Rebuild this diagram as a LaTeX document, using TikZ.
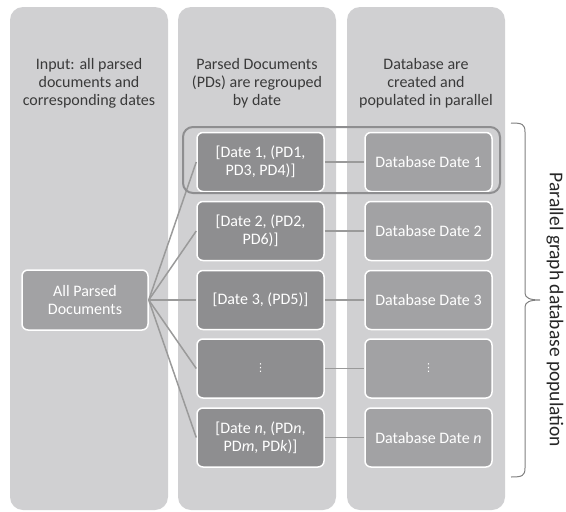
\documentclass[tikz,border=0pt]{standalone}
\usepackage{fontspec}
\setmainfont{Carlito}
\newfontfamily\symfont{DejaVu Sans}
\usepackage{tikz}
\usetikzlibrary{positioning}
\definecolor{colbg}{HTML}{D0D0D2}
\definecolor{boxa}{HTML}{8E8E90}
\definecolor{boxb}{HTML}{A2A2A4}
\definecolor{wirec}{HTML}{9A9A9A}
\definecolor{ink}{HTML}{3A3A3A}
\tikzset{col/.style = {fill = colbg, rounded corners = 13}}
\tikzset{head/.style = {align = center, text = ink, inner sep = 0, font = \fontsize{16}{18}\selectfont}}
\tikzset{pd/.style = {fill = boxa, draw = white, line width = 1.5pt, rounded corners = 6, minimum width = 127, minimum height = 59, inner sep = 0, align = center, text = white, font = \fontsize{16}{18}\selectfont}}
\tikzset{db/.style = {pd, fill = boxb}}
\tikzset{wire/.style = {draw = wirec, line width = 1.5pt}}
\tikzset{hl/.style = {draw = boxa, line width = 2pt, rounded corners = 10}}
\tikzset{brc/.style = {draw = gray, line width = 1pt}}
\newcommand{\vdotsym}{{\symfont\fontsize{11}{12}\selectfont ⋮}}

\begin{document}
\begin{tikzpicture}[x = 1pt, y = -1pt]
    \useasboundingbox (0, 0) rectangle (566, 512);

    \fill [col] (10, 7) rectangle (168, 510);
    \fill [col] (178, 7) rectangle (336, 510);
    \fill [col] (347, 7) rectangle (505, 510);

    \node [head] (h1) at (89, 83) {Input: all parsed\\documents and\\corresponding dates};
    \node [head] (h2) at (257, 83) {Parsed Documents\\(PDs) are regrouped\\by date};
    \node [head] (h3) at (426, 83) {Database are\\created and\\populated in parallel};

    \node [db, minimum width = 126, minimum height = 60] (all) at (85, 300) {All Parsed\\Documents};

    \node [pd] (d1) at (260.5, 162) {[Date 1, (PD1,\\PD3, PD4)]};
    \node [pd] (d2) at (260.5, 231) {[Date 2, (PD2,\\PD6)]};
    \node [pd] (d3) at (260.5, 300) {[Date 3, (PD5)]};
    \node [pd] (d4) at (260.5, 368.5) {\vdotsym};
    \node [pd] (d5) at (260.5, 437.5) {[Date \textit{n}, (PD\textit{n},\\PD\textit{m}, PD\textit{k})]};

    \node [db] (b1) at (428.5, 162) {Database Date 1};
    \node [db] (b2) at (428.5, 231) {Database Date 2};
    \node [db] (b3) at (428.5, 300) {Database Date 3};
    \node [db] (b4) at (428.5, 368.5) {\vdotsym};
    \node [db] (b5) at (428.5, 437.5) {Database Date \textit{n}};

    \draw [wire] (all.east) -- (d1.west);
    \draw [wire] (all.east) -- (d2.west);
    \draw [wire] (all.east) -- (d3.west);
    \draw [wire] (all.east) -- (d4.west);
    \draw [wire] (all.east) -- (d5.west);
    \draw [wire] (d1) -- (b1);
    \draw [wire] (d2) -- (b2);
    \draw [wire] (d3) -- (b3);
    \draw [wire] (d4) -- (b4);
    \draw [wire] (d5) -- (b5);

    \draw [hl] (183, 127) rectangle (500, 193);

    \draw [brc] (511, 123) .. controls (522, 123) and (525, 124) .. (525, 132) -- (525, 293)
        .. controls (525, 298) and (530, 300) .. (540, 300)
        .. controls (530, 300) and (525, 302) .. (525, 307) -- (525, 468)
        .. controls (525, 476) and (522, 477) .. (511, 477);
    \node [head, rotate = -90, text = black!85, font = \fontsize{19.5}{22}\selectfont] (side) at (555, 310) {Parallel graph database population};
  \end{tikzpicture}
\end{document}
